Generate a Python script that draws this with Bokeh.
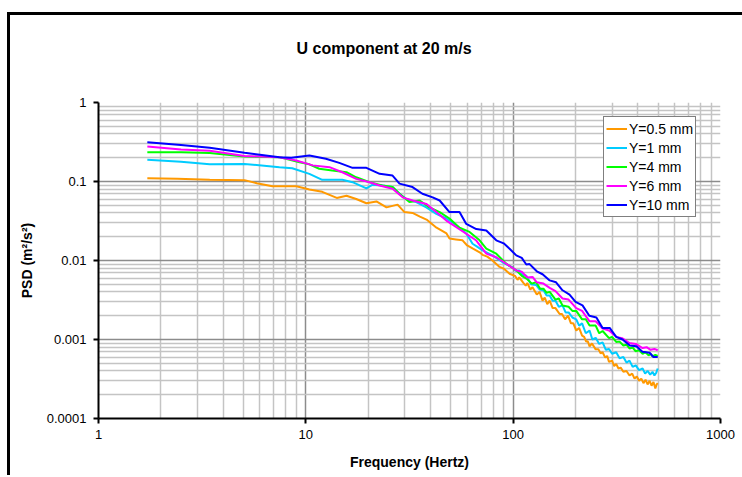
from bokeh.plotting import figure
from bokeh.models import FixedTicker, CustomJSTickFormatter, Range1d
from bokeh.embed import file_html
from bokeh.resources import INLINE

TITLE = "U component at 20 m/s"
X_LABEL = "Frequency (Hertz)"
Y_LABEL = "PSD (m²/s²)"
X_TICKS = [1, 10, 100, 1000]
Y_TICKS = [0.0001, 0.001, 0.01, 0.1, 1]

series_names = ["Y=0.5 mm", "Y=1 mm", "Y=4 mm", "Y=6 mm", "Y=10 mm"]
series_colors = ["#FF9900", "#00CCFF", "#00FF00", "#FF00FF", "#0000FF"]

f_05 = [1.72, 2.4, 3.44, 5.06, 5.8, 6.9, 8.0, 9.0, 10.4, 12.0, 14.1, 15.7, 17.5, 19.6, 21.9, 24.5,
        27.7, 29.9, 32.7, 35.5, 38.2, 42.7, 47.7, 49.3, 53, 57, 60, 63.7, 68.9, 71.2, 75, 79.5,
        86, 90, 96.1, 102, 105, 107, 112, 115, 117, 121, 124, 130, 134, 138.6, 142, 146, 150,
        155, 160, 167.5, 172, 178, 184, 190, 195, 201.5, 208, 215, 220, 225, 229, 233.6, 240,
        250, 258, 264, 270, 278, 284, 290, 300, 307, 314, 322, 330, 340, 352, 364, 375, 385,
        395, 405, 415, 425, 435, 445, 455, 465, 475, 485, 492, 498]
psd_05 = [0.110, 0.108, 0.105, 0.104, 0.095, 0.087, 0.087, 0.087, 0.079, 0.074, 0.062, 0.066,
          0.060, 0.053, 0.056, 0.047, 0.051, 0.041, 0.040, 0.036, 0.033, 0.026, 0.022, 0.019,
          0.0185, 0.018, 0.0155, 0.0142, 0.0127, 0.0118, 0.0112, 0.0100, 0.0083, 0.0079,
          0.0068, 0.0064, 0.0057, 0.0061, 0.0052, 0.0048, 0.0052, 0.0043, 0.0046, 0.0037,
          0.0040, 0.0031, 0.0034, 0.0028, 0.0031, 0.0025, 0.0025, 0.0021, 0.0021, 0.0018,
          0.0020, 0.0016, 0.0016, 0.0013, 0.0014, 0.00112, 0.00108, 0.00094, 0.00095,
          0.00082, 0.00089, 0.00075, 0.00075, 0.00067, 0.00069, 0.00059, 0.00062, 0.00052,
          0.00054, 0.00046, 0.00049, 0.00043, 0.00044, 0.00039, 0.00040, 0.00035, 0.00037,
          0.00032, 0.00034, 0.00030, 0.00032, 0.00028, 0.00031, 0.00027, 0.00030, 0.00026,
          0.00029, 0.00024, 0.00027, 0.00028]

f_1 = [1.72, 2.5, 3.44, 5.06, 7.46, 8.6, 10.4, 12.0, 15.0, 16.8, 19.6, 21.0, 23.4, 26.2, 28.3,
       30.5, 34.1, 38.1, 42.6, 47.6, 53.2, 59.4, 63.7, 67, 71.2, 79.5, 88.9, 99.3, 103, 107,
       111, 115.7, 122, 129, 134, 140, 145, 150, 155, 160, 166, 173, 179, 185, 193, 201.5,
       208, 215, 224, 233.6, 241, 250, 260, 270, 280, 290, 300, 314, 326, 340, 352, 364, 377,
       390, 405, 421, 433, 445, 458, 470, 480, 490, 498]
psd_1 = [0.188, 0.178, 0.165, 0.167, 0.152, 0.147, 0.125, 0.105, 0.105, 0.098, 0.082, 0.091,
         0.089, 0.085, 0.070, 0.060, 0.055, 0.047, 0.039, 0.034, 0.028, 0.022, 0.0163, 0.0150,
         0.0134, 0.0116, 0.0095, 0.0082, 0.0074, 0.0075, 0.0066, 0.0064, 0.0050, 0.0049,
         0.0043, 0.0042, 0.0036, 0.0036, 0.0031, 0.0031, 0.0026, 0.0027, 0.0022, 0.0022,
         0.0019, 0.0018, 0.0015, 0.0016, 0.0012, 0.0013, 0.0010, 0.00105, 0.00088, 0.00092,
         0.00074, 0.00076, 0.00066, 0.00069, 0.00058, 0.00060, 0.00051, 0.00054, 0.00045,
         0.00047, 0.00041, 0.00043, 0.00037, 0.00040, 0.00036, 0.00039, 0.00035, 0.00038,
         0.00043]

f_4 = [1.72, 2.5, 3.44, 5.06, 7.5, 9.33, 10.4, 11.6, 13.4, 15.7, 17.5, 20.3, 23.4, 26.2, 28.3,
       31.6, 35.4, 39.5, 44.2, 49.3, 55.1, 61.6, 68.9, 74.2, 82.9, 92.6, 103.5, 110, 117, 123,
       129, 135, 140, 145, 150, 160, 166, 173, 185, 193, 201.5, 215, 224, 233.6, 250, 260, 270,
       290, 300, 314, 326, 340, 352, 364, 377, 390, 405, 421, 435, 450, 460, 470, 485, 498]
psd_4 = [0.235, 0.235, 0.230, 0.207, 0.203, 0.175, 0.165, 0.145, 0.138, 0.131, 0.113, 0.098,
         0.089, 0.085, 0.070, 0.055, 0.0575, 0.047, 0.041, 0.034, 0.026, 0.023, 0.018, 0.0141,
         0.0122, 0.0091, 0.0075, 0.0064, 0.0058, 0.0051, 0.0053, 0.0044, 0.0044, 0.0039,
         0.0040, 0.0032, 0.0033, 0.0027, 0.0026, 0.0023, 0.0023, 0.0018, 0.0018, 0.0015,
         0.0015, 0.0012, 0.00128, 0.00104, 0.00108, 0.00093, 0.00094, 0.00084, 0.00086,
         0.00077, 0.00079, 0.00071, 0.00073, 0.00066, 0.00069, 0.00063, 0.00066, 0.00061,
         0.00064, 0.00062]

f_6 = [1.72, 2.5, 3.44, 5.06, 7.46, 8.99, 10.8, 13.0, 15.0, 17.5, 20.3, 22.7, 26.2, 29.3,
       32.7, 38.2, 42.6, 47.6, 53.2, 59.4, 66.4, 74.2, 82.9, 92.6, 103.5, 110, 117, 124, 130,
       140, 150, 160, 173, 185, 201.5, 215, 233.6, 250, 270, 290, 314, 335, 364, 390, 421,
       440, 460, 480, 498]
psd_6 = [0.277, 0.255, 0.245, 0.210, 0.203, 0.184, 0.160, 0.152, 0.131, 0.108, 0.098, 0.089,
         0.081, 0.063, 0.0575, 0.052, 0.041, 0.032, 0.0264, 0.0218, 0.0179, 0.0122, 0.0110,
         0.0091, 0.0075, 0.0072, 0.0061, 0.0062, 0.0053, 0.0051, 0.0045, 0.0041, 0.0033,
         0.0032, 0.0025, 0.0023, 0.0017, 0.0017, 0.00138, 0.00130, 0.00108, 0.00104, 0.00090,
         0.00088, 0.00078, 0.00080, 0.00074, 0.00076, 0.00073]

f_10 = [1.72, 2.5, 3.44, 5.06, 7.46, 8.5, 10.4, 12.5, 14.5, 16.8, 19.6, 22.7, 26.2, 28.3, 32.7,
        36.5, 40.9, 44.2, 49.3, 55.1, 59.4, 66.4, 74.2, 82.9, 90, 96.1, 103.5, 110, 115.7, 120,
        130, 138.6, 150, 161, 173, 187, 200, 216, 233, 252, 270, 292, 314, 337, 365, 393, 420,
        455, 475, 498]
psd_10 = [0.314, 0.290, 0.267, 0.231, 0.203, 0.200, 0.213, 0.194, 0.172, 0.149, 0.149, 0.125,
          0.119, 0.094, 0.085, 0.070, 0.063, 0.0575, 0.041, 0.041, 0.029, 0.025, 0.024, 0.018,
          0.0165, 0.0141, 0.0116, 0.0108, 0.0089, 0.0090, 0.0073, 0.0067, 0.0056, 0.0053,
          0.0042, 0.0037, 0.0030, 0.0027, 0.0020, 0.0019, 0.0014, 0.0014, 0.00108, 0.00100,
          0.00084, 0.00082, 0.00070, 0.00068, 0.00060, 0.00060]

series_f = [f_05, f_1, f_4, f_6, f_10]
series_psd = [psd_05, psd_1, psd_4, psd_6, psd_10]

FONT = "Liberation Sans"

p = figure(width=742, height=475, x_axis_type="log", y_axis_type="log",
           x_range=Range1d(X_TICKS[0], X_TICKS[-1]), y_range=Range1d(Y_TICKS[0], Y_TICKS[-1]),
           output_backend="svg", toolbar_location=None,
           min_border_left=98, min_border_right=22, min_border_top=102, min_border_bottom=57)
p.styles = {"box-shadow": "inset 0 12px 0 0 white, inset 7px 0 0 0 white, "
                          "inset 0 15px 0 0 black, inset 10px 0 0 0 black"}
p.outline_line_color = None
p.background_fill_color = "white"
p.border_fill_color = None

p.title.text = TITLE + "\n "
p.title.text_font = FONT
p.title.text_font_style = "bold"
p.title.text_font_size = "16px"
p.title.text_color = "black"
p.title.align = "left"
p.title.offset = 198
p.title.standoff = 57

minor_x = [m * d for d in [1, 10, 100] for m in range(2, 10)]
minor_y = [m * d for d in [0.0001, 0.001, 0.01, 0.1] for m in range(2, 10)]
p.xaxis.ticker = FixedTicker(ticks=X_TICKS, minor_ticks=minor_x)
p.yaxis.ticker = FixedTicker(ticks=Y_TICKS, minor_ticks=minor_y)
p.xaxis.formatter = CustomJSTickFormatter(code="return String(tick);")
p.yaxis.formatter = CustomJSTickFormatter(code="return String(tick);")

for ax in [p.xaxis, p.yaxis]:
    ax.axis_line_width = 2
    ax.axis_line_color = "black"
    ax.major_tick_line_width = 2
    ax.major_tick_line_color = "black"
    ax.major_tick_in = 0
    ax.major_tick_out = 5
    ax.minor_tick_line_color = None
    ax.major_label_text_font = FONT
    ax.major_label_text_font_size = "13px"
    ax.major_label_text_color = "black"
    ax.axis_label_text_font = FONT
    ax.axis_label_text_font_style = "bold"
    ax.axis_label_text_font_size = "14px"
    ax.axis_label_text_color = "black"
p.xaxis.axis_label = X_LABEL
p.yaxis.axis_label = Y_LABEL
p.xaxis.major_label_standoff = 6
p.yaxis.major_label_standoff = 7
p.xaxis.axis_label_standoff = 12
p.yaxis.axis_label_standoff = 9

for g in [p.xgrid, p.ygrid]:
    g.grid_line_color = "#8c8c8c"
    g.grid_line_width = 1.5
    g.minor_grid_line_color = "#c4c4c4"
    g.minor_grid_line_width = 1.5

for name, color, fx, py in zip(series_names, series_colors, series_f, series_psd):
    p.line(fx, py, line_color=color, line_width=2, legend_label=name)

lg = p.legend[0]
lg.location = (505, 201)
lg.border_line_color = "black"
lg.border_line_width = 1
lg.background_fill_color = "white"
lg.background_fill_alpha = 1
lg.padding = 2
lg.margin = 0
lg.spacing = 0
lg.label_height = 19
lg.glyph_height = 19
lg.glyph_width = 21
lg.label_standoff = 2
lg.label_text_font = FONT
lg.label_text_font_size = "14px"
lg.label_text_color = "black"

open("out.html", "w").write(file_html(p, INLINE))
